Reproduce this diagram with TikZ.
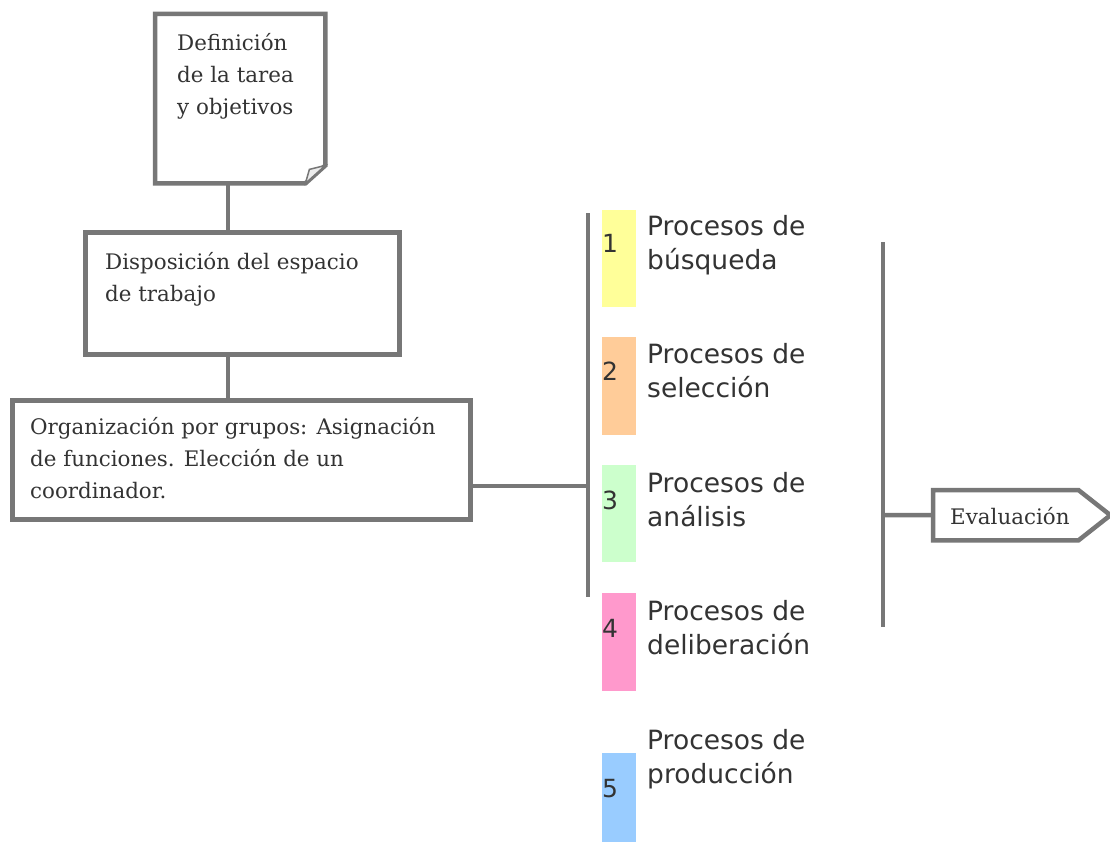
\documentclass[tikz,border=0pt]{standalone}
\usepackage{fontspec}
\setmainfont{DejaVu Serif}
\newfontfamily\procfont{DejaVu Sans}
\definecolor{linegray}{HTML}{777777}
\definecolor{txtgray}{HTML}{333333}
\definecolor{cyellow}{HTML}{FFFF99}
\definecolor{corange}{HTML}{FFCC99}
\definecolor{cgreen}{HTML}{CCFFCC}
\definecolor{cpink}{HTML}{FF99CC}
\definecolor{cblue}{HTML}{99CCFF}
\tikzset{
  conn/.style={draw=linegray, line width=4.5pt},
  boxframe/.style={draw=linegray, line width=4.5pt, fill=white, anchor=north west, inner sep=0pt},
  serif/.style={anchor=north west, align=left, inner sep=0pt, text=txtgray, font=\fontsize{21.4}{32}\selectfont},
  numbox/.style={anchor=north west, inner sep=0pt, minimum width=34pt},
  numtext/.style={anchor=west, inner sep=0pt, text=txtgray, font=\procfont\fontsize{25}{28}\selectfont},
  proclabel/.style={anchor=north west, align=left, inner sep=0pt, text=txtgray, font=\procfont\fontsize{26.5}{34}\selectfont},
}
\begin{document}
\begin{tikzpicture}[x=1pt,y=-1pt]
\useasboundingbox (0,0) rectangle (1110,843);
% document shape
\node[anchor=north west, inner sep=0pt, minimum width=170pt, minimum height=169pt] (doc) at (155,14) {};
\draw[linegray, line width=4.5pt, fill=white, line join=miter]
  (doc.north west) -- (doc.north east) -- ([yshift=18pt]doc.south east) -- ([xshift=-20pt]doc.south east) -- (doc.south west) -- cycle;
\draw[linegray, line width=1.5pt, fill=gray!15]
  ([yshift=18pt]doc.south east) -- ([xshift=-20pt]doc.south east) -- ([xshift=-16pt,yshift=14pt]doc.south east) -- cycle;
\node[serif] (doctext) at (177,33) {Definición\\de la tarea\\y objetivos};
% box 2
\node[boxframe, minimum width=314pt, minimum height=122pt] (disp) at (83,230) {};
\node[serif] (disptext) at (105,252) {Disposición del espacio\\de trabajo};
% box 3
\node[boxframe, minimum width=458pt, minimum height=119pt] (org) at (10,398) {};
\node[serif] (orgtext) at (30,417) {Organización por grupos: Asignación\\de funciones. Elección de un\\coordinador.};
% connectors
\coordinate (spine) at (228,0);
\draw[conn] (doc.south -| spine) -- (disp.north -| spine);
\draw[conn] (disp.south -| spine) -- (org.north -| spine);
\coordinate (bartop) at (588,213);
\coordinate (barbot) at (588,597);
\coordinate (barmid) at (588,486);
\draw[conn] (bartop) -- (barbot);
\draw[conn] (org.east |- barmid) -- (barmid);
% coloured boxes
\node[numbox, fill=cyellow, minimum height=97pt] (n1) at (602,210) {};
\node[numbox, fill=corange, minimum height=98pt] (n2) at (602,337) {};
\node[numbox, fill=cgreen, minimum height=97pt] (n3) at (602,465) {};
\node[numbox, fill=cpink, minimum height=98pt] (n4) at (602,593) {};
\node[numbox, fill=cblue, minimum height=89pt] (n5) at (602,753) {};
\node[numtext] (d1) at (602,243) {1};
\node[numtext] (d2) at (602,371) {2};
\node[numtext] (d3) at (602,500) {3};
\node[numtext] (d4) at (602,628) {4};
\node[numtext] (d5) at (602,789) {5};
\node[proclabel] (p1) at (647,215) {Procesos de\\búsqueda};
\node[proclabel] (p2) at (647,343) {Procesos de\\selección};
\node[proclabel] (p3) at (647,472) {Procesos de\\análisis};
\node[proclabel] (p4) at (647,600) {Procesos de\\deliberación};
\node[proclabel] (p5) at (647,729) {Procesos de\\producción};
% right bar and evaluation
\coordinate (rtop) at (883,242);
\coordinate (rbot) at (883,627);
\coordinate (rmid) at (883,515);
\draw[conn] (rtop) -- (rbot);
\node[anchor=north west, inner sep=0pt, minimum width=177pt, minimum height=50pt] (eval) at (933,490) {};
\draw[linegray, line width=4.5pt, fill=white]
  (eval.north west) -- ([xshift=-32pt]eval.north east) -- (eval.east) -- ([xshift=-32pt]eval.south east) -- (eval.south west) -- cycle;
\node[anchor=west, inner sep=0pt, text=txtgray, font=\fontsize{21.4}{24}\selectfont] (evaltext) at (950,516) {Evaluación};
\draw[conn] (rmid) -- (eval.west);
\end{tikzpicture}
\end{document}
